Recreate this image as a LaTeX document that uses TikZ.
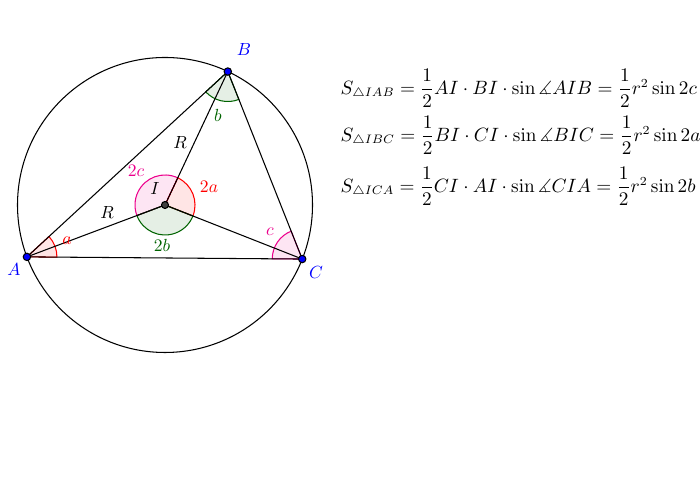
\documentclass[tikz,border=0pt]{standalone}
\usepackage{amsmath,amssymb}
\usetikzlibrary{calc}
\definecolor{dgreen}{rgb}{0,0.39,0}
\tikzset{
  pt/.style={circle,draw=black,fill=blue,inner sep=0pt,minimum size=4.2pt},
  ptlabel/.style={text=blue},
  sector/.style={line width=0.6pt,fill opacity=0.1},
  area/.style={anchor=west,inner sep=0pt,font=\fontsize{10.7}{13}\selectfont},
}
\begin{document}
\begin{tikzpicture}[line width=0.6pt]
\useasboundingbox (0,0) rectangle (14,10);
\coordinate (I) at (3.3,5.9);
\coordinate (A) at ($(I)+(200.6:2.95)$);
\coordinate (B) at ($(I)+(64.8:2.95)$);
\coordinate (C) at ($(I)+(338.5:2.95)$);
% Angles at the centre
\draw[sector,magenta,fill=magenta] (I) -- ++(64.8:0.6) arc[start angle=64.8,end angle=200.6,radius=0.6] -- cycle;
\draw[sector,red,fill=red] (I) -- ++(-21.5:0.6) arc[start angle=-21.5,end angle=64.8,radius=0.6] -- cycle;
\draw[sector,dgreen,fill=dgreen] (I) -- ++(200.6:0.6) arc[start angle=200.6,end angle=338.5,radius=0.6] -- cycle;
% Angles at the vertices
\draw[sector,red,fill=red] (A) -- ++(-0.45:0.6) arc[start angle=-0.45,end angle=42.7,radius=0.6] -- cycle;
\draw[sector,dgreen,fill=dgreen] (B) -- ++(222.7:0.6) arc[start angle=222.7,end angle=291.65,radius=0.6] -- cycle;
\draw[sector,magenta,fill=magenta] (C) -- ++(111.65:0.6) arc[start angle=111.65,end angle=179.55,radius=0.6] -- cycle;
% Draw circle
\draw (I) circle [radius=2.95];
% Draw triangle and radii
\draw (A) -- (B) -- (C) -- cycle;
\draw (I) -- (A);
\draw (I) -- (B);
\draw (I) -- (C);
% Points
\node[pt] (pA) at (A) {};
\node[pt] (pB) at (B) {};
\node[pt] (pC) at (C) {};
\node[pt,fill=black!75,minimum size=4pt] (pI) at (I) {};
\node[ptlabel] (lA) at (0.28,4.6) {$A$};
\node[ptlabel] (lB) at (4.88,9.0) {$B$};
\node[ptlabel] (lC) at (6.32,4.54) {$C$};
\node (lI) at (3.1,6.22) {$I$};
\node (rB) at (3.6,7.14) {$R$};
\node (rA) at (2.14,5.74) {$R$};
% Angle labels
\node[red] (la) at (1.34,5.18) {$a$};
\node[dgreen] (lb) at (4.36,7.7) {$b$};
\node[magenta] (lc) at (5.4,5.36) {$c$};
\node[red] (l2a) at (4.18,6.26) {$2a$};
\node[dgreen] (l2b) at (3.24,5.1) {$2b$};
\node[magenta] (l2c) at (2.72,6.58) {$2c$};
% Areas
\node[area] (eq1) at (6.8,8.24) {$S_{\triangle IAB}=\dfrac{1}{2}AI\cdot BI\cdot\sin\measuredangle AIB=\dfrac{1}{2}r^2\sin 2c$};
\node[area] (eq2) at (6.8,7.3) {$S_{\triangle IBC}=\dfrac{1}{2}BI\cdot CI\cdot\sin\measuredangle BIC=\dfrac{1}{2}r^2\sin 2a$};
\node[area] (eq3) at (6.8,6.28) {$S_{\triangle ICA}=\dfrac{1}{2}CI\cdot AI\cdot\sin\measuredangle CIA=\dfrac{1}{2}r^2\sin 2b$};
\end{tikzpicture}
\end{document}
